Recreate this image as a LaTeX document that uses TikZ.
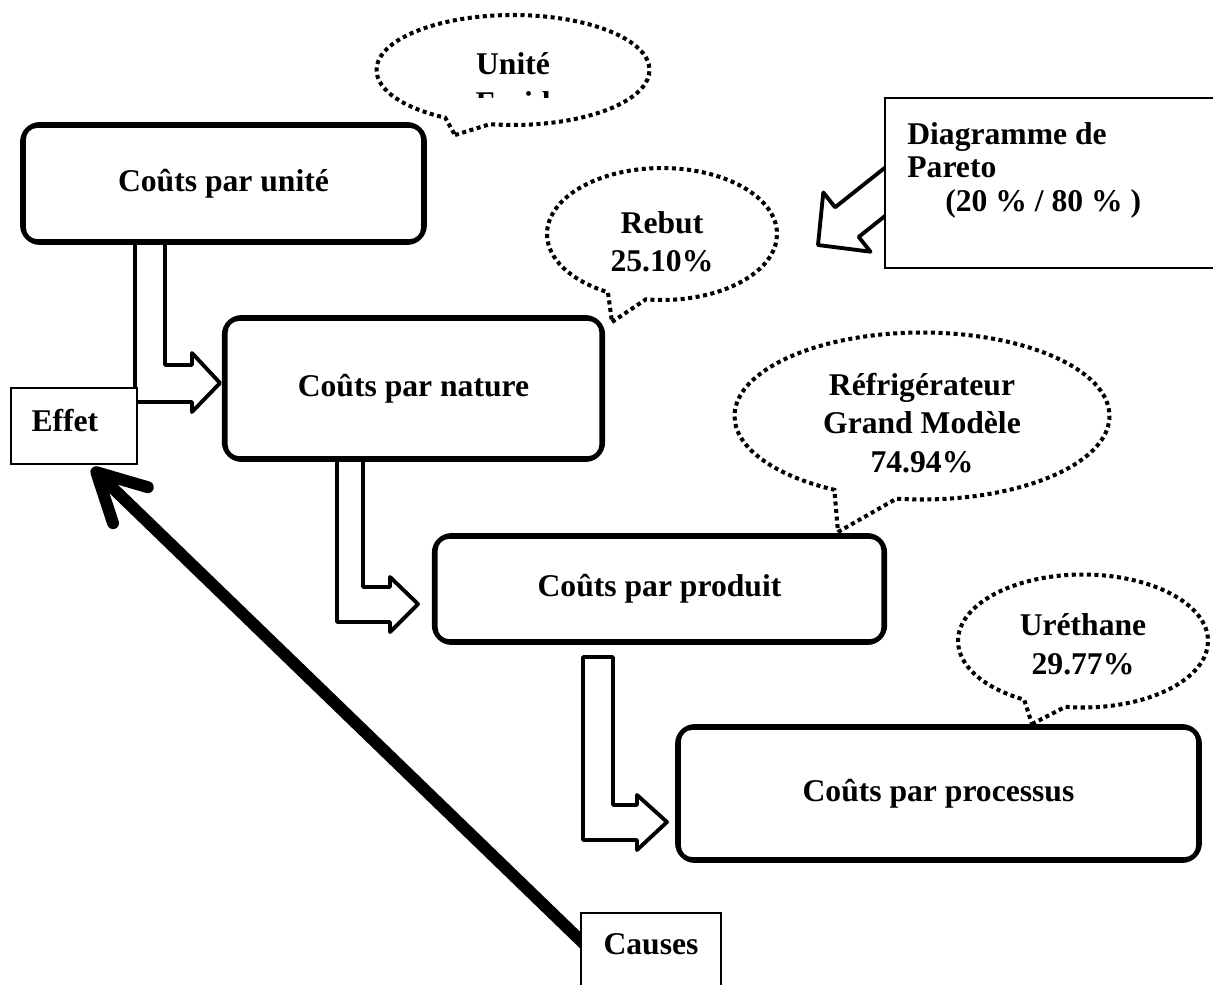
\documentclass[tikz,border=0pt]{standalone}
\usepackage{fontspec}
\setmainfont{Liberation Serif}
\usetikzlibrary{shapes.callouts,arrows.meta}
\pgfdeclarelayer{bg}
\pgfsetlayers{bg,main}
\tikzset{
  costbox/.style={draw, line width=2.5pt, rounded corners=10pt, fill=white},
  plainbox/.style={draw, line width=0.9pt, fill=white},
  bubble/.style={ellipse callout, draw, line width=2.3pt, dash pattern=on 2.3pt off 2pt,
    fill=white, inner sep=0pt, align=center, callout pointer arc=20},
  blockarrow/.style={draw, line width=2.2pt, line join=round, fill=white},
  causearrow/.style={line width=6.8pt, -{Straight Barb[length=0.95cm, width=1cm, round]}}
}
\begin{document}
\begin{tikzpicture}[x=0.02cm, y=-0.02cm, font=\fontsize{18}{22}\selectfont\bfseries]
\useasboundingbox (0,0) rectangle (1213,984);

\node[costbox, minimum width=8.05cm, minimum height=2.37cm] (unite) at (223.5,183.5) {Coûts par unité};
\node[costbox, minimum width=7.58cm, minimum height=2.85cm] (nature) at (413.5,388.5) {Coûts par nature};
\node[costbox, minimum width=9.02cm, minimum height=2.15cm] (produit) at (659.5,589) {Coûts par produit};
\node[costbox, minimum width=10.45cm, minimum height=2.69cm] (processus) at (938.5,793.5) {Coûts par processus};
\foreach \b in {unite,nature,produit,processus}
  \draw[line width=1pt, rounded corners=7pt] ([shift={(2.8pt,2.8pt)}]\b.south west) rectangle ([shift={(-2.8pt,-2.8pt)}]\b.north east);

\node[plainbox, minimum width=2.52cm, minimum height=1.52cm, text width=1.7cm, inner xsep=0.41cm, text depth=6.8pt, align=left] (effet) at (74,426) {Effet};
\node[plainbox, minimum width=2.8cm, minimum height=1.74cm, text depth=14pt] (causes) at (651,956.5) {Causes};
\node[plainbox, minimum width=6.8cm, minimum height=3.4cm] (pareto) at (1055,183) {};
\node[anchor=north west, inner sep=0pt, align=left, font=\fontsize{18}{19}\selectfont\bfseries] (paretotxt) at (907,122)
  {Diagramme de\\Pareto\\\hspace{0.76cm}(20 \% / 80 \% )};
\coordinate (effettip) at (92,468);

% bulles
\node[bubble, minimum width=5.46cm, minimum height=2.2cm, callout absolute pointer={(455,135)}] (unitecall) at (513,70) {};
\begin{scope}
  \clip (380,20) rectangle (650,97);
  \node[align=center] (unitetxt) at (513,83) {Unité\\Froid};
\end{scope}
\node[bubble, minimum width=4.6cm, minimum height=2.64cm, text height=43.5pt, callout absolute pointer={(612,322)}] (rebutcall) at (662,234) {Rebut\\25.10\%};
\node[bubble, minimum width=7.5cm, minimum height=3.34cm, text height=64.5pt, callout absolute pointer={(838,532)}] (refrigcall) at (922,416) {Réfrigérateur\\Grand Modèle\\74.94\%};
\node[bubble, minimum width=5cm, minimum height=2.66cm, text height=38pt, callout absolute pointer={(1032,724)}] (urethcall) at (1083,641) {Uréthane\\29.77\%};

\begin{pgfonlayer}{bg}
  \draw[blockarrow] (135,240) -- (165,240) -- (165,365) -- (192,365) -- (192,353) -- (220,383) -- (192,412) -- (192,402) -- (135,402) -- cycle;
  \draw[blockarrow] (337,455) -- (363,455) -- (363,587) -- (390,587) -- (390,577) -- (418,604) -- (390,632) -- (390,622) -- (337,622) -- cycle;
  \draw[blockarrow] (583,657) -- (613,657) -- (613,805) -- (637,805) -- (637,795) -- (667,822) -- (637,850) -- (637,840) -- (583,840) -- cycle;
  \draw[blockarrow] (897.5,157.7) -- (835.1,207.3) -- (823.3,192.5) -- (818,245) -- (870.5,251.7) -- (858.7,236.9) -- (921.1,187.3) -- cycle;
  \draw[causearrow] ([shift={(0.4cm,-0.06cm)}]causes.west) -- (effettip);
\end{pgfonlayer}
\end{tikzpicture}
\end{document}
